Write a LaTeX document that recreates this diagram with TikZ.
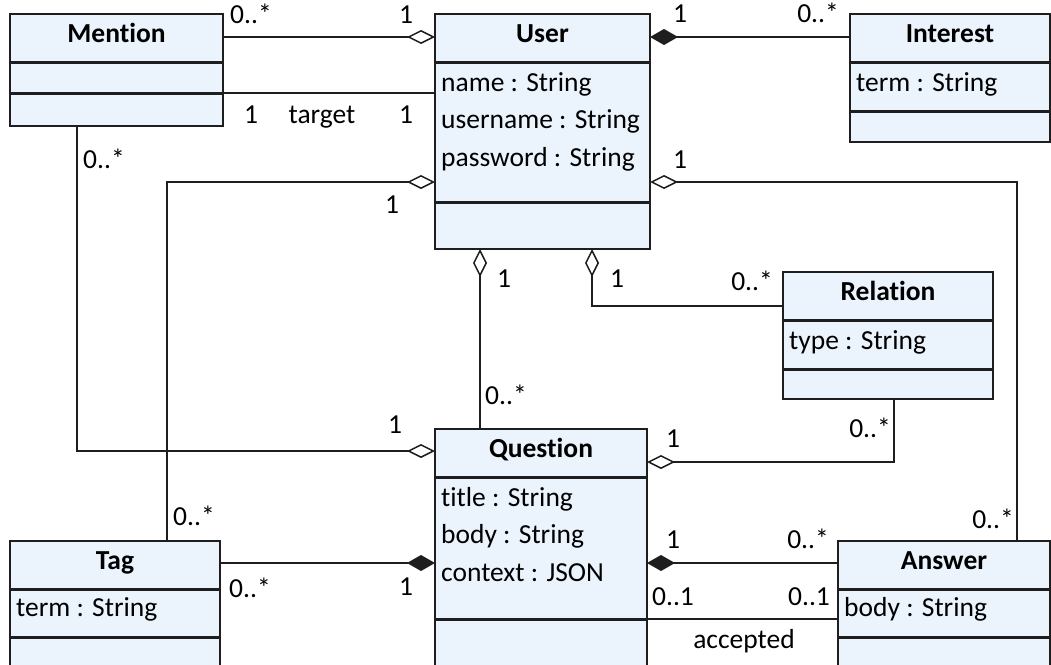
\documentclass[tikz,border=0pt]{standalone}
\usepackage{fontspec}
\setmainfont{Carlito}[Ligatures=NoCommon]
\usetikzlibrary{arrows.meta}
\definecolor{classfill}{RGB}{235,243,253}
\definecolor{ink}{RGB}{30,30,30}

\begin{document}
\begin{tikzpicture}[x=1pt,y=-1pt,
  font=\fontsize{27.5}{32}\selectfont,
  cls/.style={draw=ink, line width=1.5pt, fill=classfill, rectangle,
    inner sep=0pt, outer sep=0pt, anchor=north west},
  divider/.style={draw=ink, line width=3pt},
  title/.style={anchor=base, inner sep=0pt, font=\fontsize{27.5}{32}\selectfont\bfseries},
  attr/.style={anchor=base west, inner sep=0pt},
  mult/.style={anchor=base, inner sep=0pt},
  link/.style={draw=ink, line width=1.5pt},
  agg/.style={link, -{Diamond[open, length=28pt, width=14pt]}},
  comp/.style={link, -{Diamond[length=28pt, width=16pt]}},
]
\useasboundingbox (0,0) rectangle (1051,664);
\clip (0,0) rectangle (1051,664);

% class boxes
\node[cls, minimum width=213pt, minimum height=112pt] (mention) at (10,14) {};
\node[cls, minimum width=215pt, minimum height=235pt] (user) at (435,14) {};
\node[cls, minimum width=200pt, minimum height=128pt] (interest) at (850,14) {};
\node[cls, minimum width=210pt, minimum height=127pt] (relation) at (783,272) {};
\node[cls, minimum width=212pt, minimum height=270pt] (question) at (435,429) {};
\node[cls, minimum width=210pt, minimum height=160pt] (tag) at (10,541) {};
\node[cls, minimum width=212pt, minimum height=160pt] (answer) at (838,541) {};

% compartment separators
\draw[divider] ([yshift=-48pt]mention.north west) -- ([yshift=-48pt]mention.north east);
\draw[divider] ([yshift=-79pt]mention.north west) -- ([yshift=-79pt]mention.north east);
\draw[divider] ([yshift=-48pt]user.north west) -- ([yshift=-48pt]user.north east);
\draw[divider] ([yshift=-188pt]user.north west) -- ([yshift=-188pt]user.north east);
\draw[divider] ([yshift=-48pt]interest.north west) -- ([yshift=-48pt]interest.north east);
\draw[divider] ([yshift=-97pt]interest.north west) -- ([yshift=-97pt]interest.north east);
\draw[divider] ([yshift=-48pt]relation.north west) -- ([yshift=-48pt]relation.north east);
\draw[divider] ([yshift=-97pt]relation.north west) -- ([yshift=-97pt]relation.north east);
\draw[divider] ([yshift=-48pt]question.north west) -- ([yshift=-48pt]question.north east);
\draw[divider] ([yshift=-190pt]question.north west) -- ([yshift=-190pt]question.north east);
\draw[divider] ([yshift=-48pt]tag.north west) -- ([yshift=-48pt]tag.north east);
\draw[divider] ([yshift=-96pt]tag.north west) -- ([yshift=-96pt]tag.north east);
\draw[divider] ([yshift=-48pt]answer.north west) -- ([yshift=-48pt]answer.north east);
\draw[divider] ([yshift=-96pt]answer.north west) -- ([yshift=-96pt]answer.north east);

% class names
\node[title] (mentionTitle) at ([yshift=-28pt]mention.north) {Mention};
\node[title] (userTitle) at ([yshift=-28pt]user.north) {User};
\node[title] (interestTitle) at ([yshift=-28pt]interest.north) {Interest};
\node[title] (relationTitle) at ([yshift=-28pt]relation.north) {Relation};
\node[title] (questionTitle) at ([yshift=-28pt]question.north) {Question};
\node[title] (tagTitle) at ([yshift=-28pt]tag.north) {Tag};
\node[title] (answerTitle) at ([yshift=-28pt]answer.north) {Answer};

% attributes
\node[attr] (userName) at ([xshift=6pt,yshift=-77pt]user.north west) {name : String};
\node[attr] (userLogin) at ([xshift=6pt,yshift=-114pt]user.north west) {username : String};
\node[attr] (userPass) at ([xshift=6pt,yshift=-152pt]user.north west) {password : String};
\node[attr] (interestTerm) at ([xshift=6pt,yshift=-77pt]interest.north west) {term : String};
\node[attr] (relationType) at ([xshift=6pt,yshift=-77pt]relation.north west) {type : String};
\node[attr] (questionTitleAttr) at ([xshift=6pt,yshift=-77pt]question.north west) {title : String};
\node[attr] (questionBody) at ([xshift=6pt,yshift=-114pt]question.north west) {body : String};
\node[attr] (questionContext) at ([xshift=6pt,yshift=-152pt]question.north west) {context : JSON};
\node[attr] (tagTerm) at ([xshift=6pt,yshift=-75pt]tag.north west) {term : String};
\node[attr] (answerBody) at ([xshift=6pt,yshift=-75pt]answer.north west) {body : String};

% associations
\draw[agg] ([yshift=-23pt]mention.north east) -- ([yshift=-23pt]user.north west);
\draw[link] ([yshift=-79pt]mention.north east) -- ([yshift=-79pt]user.north west);
\draw[comp] ([yshift=-23pt]interest.north west) -- ([yshift=-23pt]user.north east);
\draw[agg] ([xshift=157pt]tag.north west) |- ([yshift=-168pt]user.north west);
\draw[agg] ([xshift=179pt]answer.north west) |- ([yshift=-168pt]user.north east);
\draw[agg] ([xshift=45pt]question.north west) -- ([xshift=45pt]user.south west);
\draw[agg] ([yshift=-34pt]relation.north west) -| ([xshift=157pt]user.south west);
\draw[agg] ([xshift=67pt]mention.south west) |- ([yshift=-22pt]question.north west);
\draw[agg] ([xshift=111pt]relation.south west) |- ([yshift=-33pt]question.north east);
\draw[comp] ([yshift=-22pt]tag.north east) -- ([yshift=-134pt]question.north west);
\draw[comp] ([yshift=-22pt]answer.north west) -- ([yshift=-134pt]question.north east);
\draw[link] ([yshift=-190pt]question.north east) -- ([yshift=-78pt]answer.north west);

% multiplicities and role names
\node[mult] (mA) at (251,23) {0..*};
\node[mult] (mB) at (406,23) {1};
\node[mult] (mC) at (251,123) {1};
\node[mult] (mTarget) at (322,123) {target};
\node[mult] (mD) at (406,123) {1};
\node[mult] (mE) at (680,22) {1};
\node[mult] (mF) at (818,22) {0..*};
\node[mult] (mG) at (680,168) {1};
\node[mult] (mH) at (104,168) {0..*};
\node[mult] (mI) at (392,213) {1};
\node[mult] (mJ) at (504,287) {1};
\node[mult] (mK) at (617,287) {1};
\node[mult] (mL) at (752,290) {0..*};
\node[mult] (mM) at (506,404) {0..*};
\node[mult] (mN) at (870,437) {0..*};
\node[mult] (mO) at (673,447) {1};
\node[mult] (mP) at (395,433) {1};
\node[mult] (mQ) at (993,528) {0..*};
\node[mult] (mR) at (194,525) {0..*};
\node[mult] (mS) at (250,597) {0..*};
\node[mult] (mT) at (406,595) {1};
\node[mult] (mU) at (673,548) {1};
\node[mult] (mV) at (808,548) {0..*};
\node[mult] (mW) at (673,605) {0..1};
\node[mult] (mX) at (809,605) {0..1};
\node[mult] (mAccepted) at (744,648) {accepted};
\end{tikzpicture}
\end{document}
